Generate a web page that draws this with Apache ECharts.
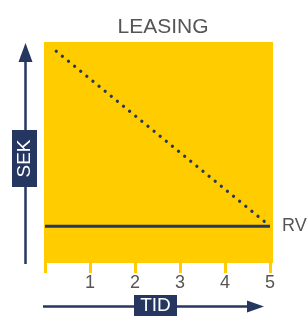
<!DOCTYPE html>
<html>
<head>
<meta charset="utf-8">
<script src="https://cdn.jsdelivr.net/npm/echarts@6/dist/echarts.min.js"></script>
<style>html,body{margin:0;padding:0;background:#fff}#c{width:307px;height:316px}</style>
</head>
<body>
<div id="c"></div>
<script>
// Data
var xTicks = [0, 1, 2, 3, 4, 5];
var rvLine = [[0, 1], [5, 1]];
var leasingLine = [[0.25, 5.75], [5, 1]];
var titleText = 'LEASING';
var xName = 'TID';
var yName = 'SEK';
var rvLabel = 'RV';

var NAVY = '#253660';
var YELLOW = '#FFCC00';
var GREY = '#555555';
var FONT = 'Liberation Sans, Arial, sans-serif';

var chart = echarts.init(document.getElementById('c'), null, {renderer: 'canvas'});
chart.setOption({
  animation: false,
  title: {
    text: titleText, left: 158, top: 12, textAlign: 'center',
    textStyle: {color: GREY, fontSize: 21, fontWeight: 'normal', fontFamily: FONT}
  },
  grid: {left: 45, right: 37, top: 42, bottom: 53},
  xAxis: {
    type: 'value', min: 0, max: 5, interval: 1,
    axisLine: {show: false},
    splitLine: {show: false},
    axisTick: {show: true, length: 10, lineStyle: {color: YELLOW, width: 3}},
    axisLabel: {
      margin: 11, color: GREY, fontSize: 18, fontFamily: FONT,
      formatter: function (v) { return v === 0 ? '' : String(v); }
    }
  },
  yAxis: {
    type: 'value', min: 0, max: 6, show: false
  },
  graphic: [
    {type: 'rect', z: -10, shape: {x: 44, y: 42, width: 229, height: 221}, style: {fill: YELLOW}},
    // y arrow
    {type: 'line', shape: {x1: 25.5, y1: 264, x2: 25.5, y2: 60}, style: {stroke: NAVY, lineWidth: 2.5}},
    {type: 'polygon', shape: {points: [[25.5, 43], [18.5, 62], [32.5, 62]]}, style: {fill: NAVY}},
    {type: 'rect', shape: {x: 12, y: 130, width: 25, height: 57}, style: {fill: NAVY}},
    {type: 'text', x: 24.5, y: 158.5, rotation: Math.PI / 2,
      style: {text: yName, fill: '#fff', font: '19px ' + FONT, align: 'center', verticalAlign: 'middle'}},
    // x arrow
    {type: 'line', shape: {x1: 43, y1: 306.5, x2: 249, y2: 306.5}, style: {stroke: NAVY, lineWidth: 2.5}},
    {type: 'polygon', shape: {points: [[264, 306.5], [247, 300.5], [247, 312.5]]}, style: {fill: NAVY}},
    {type: 'rect', shape: {x: 134, y: 295, width: 43, height: 21}, style: {fill: NAVY}},
    {type: 'text', x: 155.5, y: 305.5,
      style: {text: xName, fill: '#fff', font: '19px ' + FONT, align: 'center', verticalAlign: 'middle'}}
  ],
  series: [
    {
      type: 'line', data: rvLine, symbol: 'none',
      lineStyle: {color: NAVY, width: 3},
      endLabel: {show: true, formatter: rvLabel, color: GREY, fontSize: 18, fontFamily: FONT, distance: 12}
    },
    {
      type: 'line', data: leasingLine, symbol: 'none',
      lineStyle: {color: NAVY, width: 3.3, type: [0.01, 7.89], cap: 'round'}
    }
  ]
});
</script>
</body>
</html>
